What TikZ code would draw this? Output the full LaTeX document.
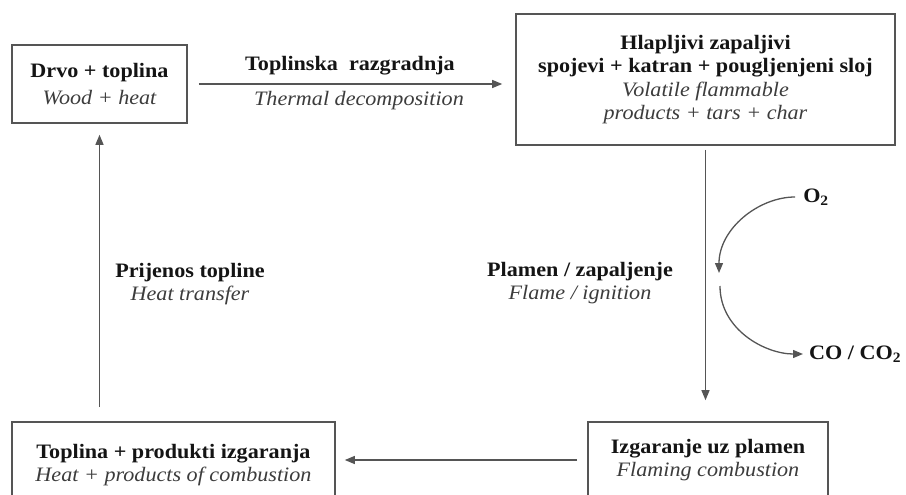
\documentclass[tikz,border=0pt]{standalone}
\usepackage{fontspec}
\setmainfont{Liberation Serif}[FakeStretch=1.08]
\usetikzlibrary{arrows.meta}
\definecolor{linegray}{HTML}{555555}
\definecolor{inkblack}{HTML}{141414}
\definecolor{inkgray}{HTML}{3C3C3C}
\newcommand{\hrv}[1]{{\bfseries\color{inkblack}#1}}
\newcommand{\eng}[1]{{\itshape\color{inkgray}#1}}

\begin{document}
\begin{tikzpicture}[x=1pt,y=-1pt,
  font=\fontsize{20.5}{23.5}\selectfont,
  box/.style={draw=linegray, line width=1.6pt, align=center, inner sep=0pt},
  lbl/.style={align=center, inner sep=0pt},
  flow/.style={draw=linegray, line width=1.3pt, -{Triangle[length=10pt,width=8pt]}}]
\useasboundingbox (0,0) rectangle (906,495);
%Boxes
\node[box, minimum width=175, minimum height=78] (wood) at (99.5,84)
  {\hrv{Drvo + toplina}\\[3pt]\eng{Wood + heat}};
\node[box, minimum width=379, minimum height=131] (volat) at (705.5,79.5)
  {\hrv{Hlapljivi zapaljivi}\\\hrv{spojevi + katran + pougljenjeni sloj}\\
   \eng{Volatile flammable}\\\eng{products + tars + char}};
\node[box, minimum width=240, minimum height=76] (flame) at (708,460)
  {\hrv{Izgaranje uz plamen}\\\eng{Flaming combustion}};
\node[box, minimum width=323, minimum height=86] (prod) at (173.5,465)
  {\hrv{Toplina + produkti izgaranja}\\\eng{Heat + products of combustion}};
%Arrows between boxes
\draw[flow, shorten <=11pt, shorten >=13pt] (wood.east) -- (wood.east -| volat.west);
\draw[flow, shorten <=4pt, shorten >=21pt] (volat.south) -- (volat.south |- flame.north);
\draw[flow, shorten <=10pt, shorten >=9pt] (flame.west |- prod.east) ++(0,-5) coordinate (fl) (fl) -- (fl -| prod.east);
\draw[flow, shorten <=14pt, shorten >=11pt] (wood.south |- prod.north) -- (wood.south);
%Labels on the arrows
\node[lbl] (decomp) at (350,66) {\hrv{Toplinska\ \ razgradnja}};
\node[lbl] (thermal) at (359,101) {\eng{Thermal decomposition}};
\node[lbl] (transfer) at (190,284) {\hrv{Prijenos topline}\\\eng{Heat transfer}};
\node[lbl] (ignite) at (580,283) {\hrv{Plamen / zapaljenje}\\\eng{Flame / ignition}};
%Oxygen in, CO/CO2 out
\node[lbl] (oxy) at (816,197) {\hrv{O\textsubscript{2}}};
\node[lbl, anchor=west] (co) at (809,354) {\hrv{CO / CO\textsubscript{2}}};
\coordinate (oin) at (719,273);
\coordinate (cout) at (720,286);
\draw[flow, shorten <=8pt] (oxy.west) to[out=180,in=90] (oin);
\draw[flow, shorten >=6pt] (cout) to[out=-90,in=180] (co.west);
\end{tikzpicture}
\end{document}
